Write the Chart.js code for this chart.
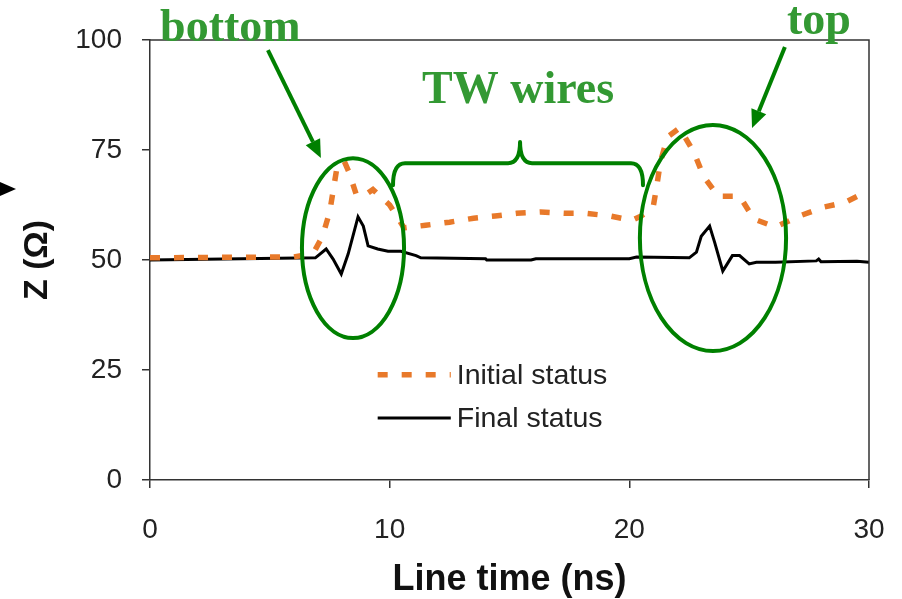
<!DOCTYPE html>
<html><head><meta charset="utf-8">
<script src="https://cdn.jsdelivr.net/npm/chart.js@4/dist/chart.umd.min.js"></script>
<style>html,body{margin:0;padding:0;background:#fff}#wrap{width:902px;height:599px;position:relative}</style>
</head><body><div id="wrap"><canvas id="c" width="902" height="599"></canvas></div>
<script>
// ---- data ----
const seriesLabels = ['Initial status', 'Final status'];
const initialTime = [0, 6.0, 6.8, 7.2, 7.5, 7.65, 7.8, 8.1, 8.3, 8.6, 8.9, 9.3, 10.0, 10.6, 11.5, 12.5, 13.5, 14.4, 15.3, 16.3, 17.3, 18.2, 19.2, 20.1, 20.5, 21.0, 21.15, 21.3, 21.6, 22.1, 22.7, 23.1, 23.7, 24.6, 25.2, 26.1, 27.1, 28.1, 29.0, 30.0];
const initialZ    = [50.5, 50.7, 51.4, 55.4, 61, 66, 71, 72.5, 70, 65, 64.5, 66, 62.5, 57.3, 57.9, 58.6, 59.5, 60, 60.6, 60.9, 60.6, 60.6, 60, 59, 60, 62.2, 67, 72.4, 78, 80, 74.4, 69, 64.5, 64.5, 59.3, 57.5, 60, 62, 63.1, 65.8];
const finalTime = [0, 6.9, 7.35, 7.64, 7.98, 8.27, 8.68, 8.9, 9.1, 9.5, 9.93, 10.47, 11.1, 11.3, 14.0, 14.05, 15.9, 16.1, 20.0, 20.3, 22.5, 22.8, 23.0, 23.35, 23.56, 23.9, 24.3, 24.6, 25.0, 25.3, 26.1, 27.8, 27.9, 28.0, 29.5, 30.0];
const finalZ    = [50, 50.5, 52.5, 50.2, 46.8, 51.4, 59.8, 57.7, 53.2, 52.5, 52, 52, 51, 50.5, 50.3, 50.0, 50.0, 50.3, 50.3, 50.7, 50.5, 51.8, 55.4, 57.7, 54, 47.5, 51, 51, 49.1, 49.5, 49.5, 49.8, 50.2, 49.6, 49.7, 49.5];
const xTickValues = [0, 10, 20, 30];
const yTickValues = [0, 25, 50, 75, 100];
const xTitle = 'Line time (ns)';
const yTitle = 'Z (\u03A9)';
const annotationLabels = ['bottom', 'TW wires', 'top'];

// ---- styles ----
const ORANGE = '#E8792A';
const GREEN_LINE = '#008000';
const GREEN_TEXT = '#339933';
const AXIS = '#333333';

const toPts = (xs, ys) => xs.map((x, i) => ({x: x, y: ys[i]}));

const annotPlugin = {
  id: 'annot',
  afterDatasetsDraw(chart) {
    const ctx = chart.ctx, xs = chart.scales.x, ys = chart.scales.y, a = chart.chartArea;
    const X = v => xs.getPixelForValue(v), Y = v => ys.getPixelForValue(v);
    ctx.save();
    // frame top & right
    ctx.strokeStyle = AXIS; ctx.lineWidth = 1.5;
    ctx.beginPath(); ctx.moveTo(a.left, a.top); ctx.lineTo(a.right, a.top); ctx.lineTo(a.right, a.bottom); ctx.stroke();

    // ellipses
    ctx.strokeStyle = GREEN_LINE; ctx.lineWidth = 4;
    const ell = (cx, cy, rx, ry) => {
      const px = X(cx), py = Y(cy);
      const rpx = Math.abs(X(cx + rx) - px), rpy = Math.abs(Y(cy + ry) - py);
      ctx.beginPath(); ctx.ellipse(px, py, rpx, rpy, 0, 0, Math.PI * 2); ctx.stroke();
    };
    ell(8.47, 52.7, 2.13, 20.45);
    ell(23.49, 55.0, 3.05, 25.7);

    // arrows
    const arrow = (x1, y1, x2, y2) => {
      const p1 = [X(x1), Y(y1)], p2 = [X(x2), Y(y2)];
      const ang = Math.atan2(p2[1] - p1[1], p2[0] - p1[0]);
      const L = 18, W = 8;
      const bx = p2[0] - L * Math.cos(ang), by = p2[1] - L * Math.sin(ang);
      ctx.strokeStyle = GREEN_LINE; ctx.lineWidth = 4;
      ctx.beginPath(); ctx.moveTo(p1[0], p1[1]); ctx.lineTo(bx, by); ctx.stroke();
      ctx.fillStyle = GREEN_LINE;
      ctx.beginPath();
      ctx.moveTo(p2[0], p2[1]);
      ctx.lineTo(bx + W * Math.sin(ang), by - W * Math.cos(ang));
      ctx.lineTo(bx - W * Math.sin(ang), by + W * Math.cos(ang));
      ctx.closePath(); ctx.fill();
    };
    arrow(4.92, 97.7, 7.13, 73.2);
    arrow(26.49, 98.4, 25.12, 80.0);

    // brace
    const bl = X(10.14), br = X(20.57), bm = X(15.44);
    const yEnd = Y(67.0), yH = Y(72.0), yTip = Y(76.8);
    const r = 12;
    ctx.strokeStyle = GREEN_LINE; ctx.lineWidth = 4; ctx.lineJoin = 'round'; ctx.lineCap = 'round';
    ctx.beginPath();
    ctx.moveTo(bl, yEnd);
    ctx.quadraticCurveTo(bl, yH, bl + r, yH);
    ctx.lineTo(bm - r, yH);
    ctx.quadraticCurveTo(bm, yH, bm, yTip);
    ctx.quadraticCurveTo(bm, yH, bm + r, yH);
    ctx.lineTo(br - r, yH);
    ctx.quadraticCurveTo(br, yH, br, yEnd);
    ctx.stroke();

    // annotation texts
    ctx.fillStyle = GREEN_TEXT;
    ctx.font = 'bold 46px "Liberation Serif", "DejaVu Serif", serif';
    ctx.textAlign = 'left'; ctx.textBaseline = 'alphabetic';
    ctx.fillText(annotationLabels[0], X(0.42), Y(99.8));
    ctx.fillText(annotationLabels[1], X(11.35), Y(85.7));
    ctx.fillText(annotationLabels[2], X(26.58), Y(101.4));

    // legend
    const ds = chart.data.datasets;
    const lx1 = X(9.5), lx2 = X(12.55), ltx = X(12.8);
    const rows = [Y(23.9), Y(14.1)];
    ds.forEach((d, i) => {
      ctx.save();
      ctx.strokeStyle = d.borderColor; ctx.lineWidth = d.borderWidth; ctx.lineCap = 'butt';
      ctx.setLineDash(d.borderDash || []);
      ctx.beginPath(); ctx.moveTo(lx1, rows[i]); ctx.lineTo(lx2, rows[i]); ctx.stroke();
      ctx.restore();
      ctx.fillStyle = '#222';
      ctx.font = '28.5px "Liberation Sans", Arial, sans-serif';
      ctx.textAlign = 'left'; ctx.textBaseline = 'middle';
      ctx.fillText(d.label, ltx, rows[i] + 1);
    });

    // small black pointer at left edge
    ctx.fillStyle = '#000';
    ctx.beginPath(); ctx.moveTo(-2, 181); ctx.lineTo(16, 189); ctx.lineTo(-2, 197); ctx.closePath(); ctx.fill();
    ctx.restore();
  }
};

new Chart(document.getElementById('c'), {
  type: 'line',
  data: {
    datasets: [
      {label: seriesLabels[0], data: toPts(initialTime, initialZ), borderColor: ORANGE, borderWidth: 5.5,
       borderDash: [10, 14], borderCapStyle: 'butt', pointRadius: 0, tension: 0, fill: false},
      {label: seriesLabels[1], data: toPts(finalTime, finalZ), borderColor: '#000', borderWidth: 3,
       pointRadius: 0, tension: 0, fill: false}
    ]
  },
  options: {
    responsive: false, animation: false, devicePixelRatio: 1,
    layout: {padding: {top: 40, right: 33, left: 0, bottom: 0}},
    plugins: {legend: {display: false}, tooltip: {enabled: false}},
    scales: {
      x: {
        type: 'linear', min: 0, max: 30,
        afterBuildTicks: s => { s.ticks = xTickValues.map(v => ({value: v})); },
        afterFit: s => { s.height = 119; s.paddingLeft = 0; s.paddingRight = 0; },
        grid: {drawOnChartArea: false, drawTicks: true, tickLength: 8, color: AXIS, lineWidth: 1.5},
        border: {display: true, color: AXIS, width: 1.5},
        ticks: {font: {family: '"Liberation Sans", Arial, sans-serif', size: 28}, color: '#222', padding: 25, maxRotation: 0},
        title: {display: true, text: xTitle, color: '#111', font: {family: '"Liberation Sans", Arial, sans-serif', size: 36, weight: 'bold', lineHeight: 1}, padding: {top: 0, bottom: 1}}
      },
      y: {
        min: 0, max: 100,
        afterBuildTicks: s => { s.ticks = yTickValues.map(v => ({value: v})); },
        afterFit: s => { s.width = 150; s.paddingTop = 0; s.paddingBottom = 0; },
        grid: {drawOnChartArea: false, drawTicks: true, tickLength: 8, color: AXIS, lineWidth: 1.5},
        border: {display: true, color: AXIS, width: 1.5},
        ticks: {font: {family: '"Liberation Sans", Arial, sans-serif', size: 28}, color: '#222', padding: 20},
        title: {display: true, text: yTitle, color: '#111', font: {family: '"Liberation Sans", Arial, sans-serif', size: 34, weight: 'bold', lineHeight: 1}, padding: {top: 21, bottom: 0}}
      }
    }
  },
  plugins: [annotPlugin]
});
</script></body></html>
